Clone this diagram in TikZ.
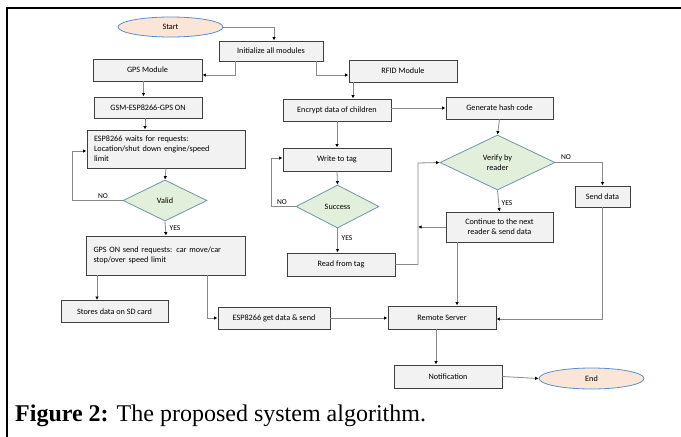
\documentclass[tikz,border=0pt]{standalone}
\usepackage{fontspec}
\setmainfont{Carlito}
\newfontfamily\capfont{Liberation Serif}
\usetikzlibrary{shapes.geometric,arrows.meta}
\definecolor{boxfill}{HTML}{F2F2F2}
\definecolor{boxline}{HTML}{3F3F3F}
\definecolor{dfill}{HTML}{E2EFDA}
\definecolor{dline}{HTML}{6F95AE}
\definecolor{efill}{HTML}{FBE5D6}
\definecolor{eline}{HTML}{5B8FC9}
\definecolor{conn}{HTML}{8A8A8A}
\tikzset{
  pbox/.style={draw=boxline,fill=boxfill,line width=0.9pt,inner sep=1pt,font=\fontsize{8.2}{9.8}\selectfont,align=center},
  lbox/.style={pbox,align=left,text width=#1,inner xsep=7pt},
  dia/.style={diamond,draw=dline,fill=dfill,line width=0.8pt,inner sep=0pt,font=\fontsize{8.2}{9.8}\selectfont,align=center},
  ell/.style={ellipse,draw=eline,fill=efill,line width=0.8pt,inner sep=0pt,font=\fontsize{8.2}{9.8}\selectfont},
  arr/.style={draw=conn,line width=0.8pt,-{Latex[length=3.5pt,width=3.5pt,color=black]}},
  lab/.style={font=\fontsize{7.5}{9}\selectfont,inner sep=0pt}
}
\begin{document}
\begin{tikzpicture}[x=1pt,y=-1pt]
\useasboundingbox (0,0) rectangle (681,437);
\fill[white] (0,0) rectangle (681,437);
\draw[line width=2.4pt] (7,437) -- (7,8) -- (681,8);
% nodes
\node[ell,minimum width=105,minimum height=20] (start) at (170.5,27) {Start};
\node[pbox,minimum width=104,minimum height=20] (init) at (271,51) {Initialize all modules};
\node[pbox,minimum width=109,minimum height=22] (gps) at (147.5,70) {GPS Module};
\node[pbox,minimum width=108,minimum height=22] (rfid) at (403,71) {RFID Module};
\node[pbox,minimum width=108,minimum height=21] (gsm) at (148,107.5) {GSM-ESP8266-GPS ON};
\node[pbox,minimum width=108,minimum height=22] (enc) at (337,110) {Encrypt data of children};
\node[pbox,minimum width=107,minimum height=22] (hash) at (499.5,108) {Generate hash code};
\node[lbox=144pt,minimum height=38] (wait) at (166,149) {ESP8266 waits for requests:\\Location/shut down engine/speed\\limit};
\node[pbox,minimum width=108,minimum height=23] (write) at (337,159.5) {Write to tag};
\node[dia,minimum width=84,minimum height=41] (valid) at (165,200.5) {Valid};
\node[dia,minimum width=115,minimum height=55] (verify) at (497.5,162.5) {Verify by\\reader};
\node[dia,minimum width=83,minimum height=43] (succ) at (337.5,206.5) {Success};
\node[pbox,minimum width=55,minimum height=21] (send) at (602.5,196.5) {Send data};
\node[pbox,minimum width=107,minimum height=30] (cont) at (499.5,227) {Continue to the next\\reader \& send data};
\node[lbox=145pt,minimum height=39] (gpson) at (166,255.5) {GPS ON send requests: car move/car\\stop/over speed limit};
\node[pbox,minimum width=108,minimum height=23] (read) at (341,264.5) {Read from tag};
\node[pbox,minimum width=107,minimum height=22] (sd) at (114.5,311.5) {Stores data on SD card};
\node[pbox,minimum width=112,minimum height=22] (espget) at (274,318) {ESP8266 get data \& send};
\node[pbox,minimum width=108,minimum height=23] (remote) at (442,317.5) {Remote Server};
\node[pbox,minimum width=108,minimum height=23] (notif) at (448,376.5) {Notification};
\node[ell,minimum width=105,minimum height=21] (end) at (591.5,378.5) {End};
\coordinate (vx) at (418,163);
% connectors
\draw[arr] (start.east) -| ([xshift=3pt]init.north);
\draw[arr] ([xshift=-36pt]init.south) |- ([yshift=-5pt]gps.east);
\draw[arr] ([xshift=45pt]init.south) |- ([yshift=-4pt]rfid.west);
\draw[arr] ([xshift=-4pt]gps.south) -- ([xshift=-4pt]gps.south |- gsm.north);
\draw[arr] ([xshift=-50pt]rfid.south) -- ([xshift=-50pt]rfid.south |- enc.north);
\draw[arr] ([yshift=2pt]enc.east) -- ([yshift=2pt]enc.east -| hash.west);
\draw[arr] (hash.south) -- (verify.north);
\draw[arr] ([xshift=-3pt]gsm.south) -- ([xshift=-3pt]gsm.south |- wait.north);
\draw[arr] (enc.south) -- (write.north);
\draw[arr] (wait.south) -- (valid.north);
\draw[arr] (valid.west) -- ++(-50,0) |- ([yshift=-2pt]wait.west);
\node[lab] (no1) at (103,196) {NO};
\draw[arr] (write.south) -- (succ.north);
\draw[arr] (succ.west) -- ++(-24,0) |- ([yshift=1.5pt]write.west);
\node[lab] (no2) at (282,202) {NO};
\draw[arr] (succ.south) -- (succ.south |- read.north);
\node[lab] (yes2) at (347,238) {YES};
\draw[arr] (read.east) -| (vx) -- (verify.west);
\draw[arr] (cont.west) -- (cont.west -| vx);
\draw[arr] (verify.south) -- (cont.north);
\node[lab] (yes3) at (507,203) {YES};
\draw[arr] (verify.east) -| (send.north);
\node[lab] (no3) at (566,157) {NO};
\draw[arr] (valid.south) -- (gpson.north);
\node[lab] (yes1) at (175,228) {YES};
\draw[arr] ([xshift=-69pt]gpson.south) -- ([xshift=-69pt]gpson.south |- sd.north);
\draw[arr] ([xshift=41pt]gpson.south) |- (espget.west);
\draw[arr] (espget.east) -- (espget.east -| remote.west);
\draw[arr] ([xshift=-42.5pt]cont.south) -- ([xshift=-42.5pt]cont.south |- remote.north);
\draw[arr] (send.south) |- ([yshift=-1.5pt]remote.east);
\draw[arr] ([xshift=-6pt]remote.south) -- ([xshift=-6pt]remote.south |- notif.north);
\draw[arr] (notif.east) -- (end.west);
% caption
\node[anchor=base west,inner sep=0pt,font=\capfont\fontsize{24}{28}\selectfont] (cap) at (15,421) {\textbf{Figure 2:} The proposed system algorithm.};
\end{tikzpicture}
\end{document}
